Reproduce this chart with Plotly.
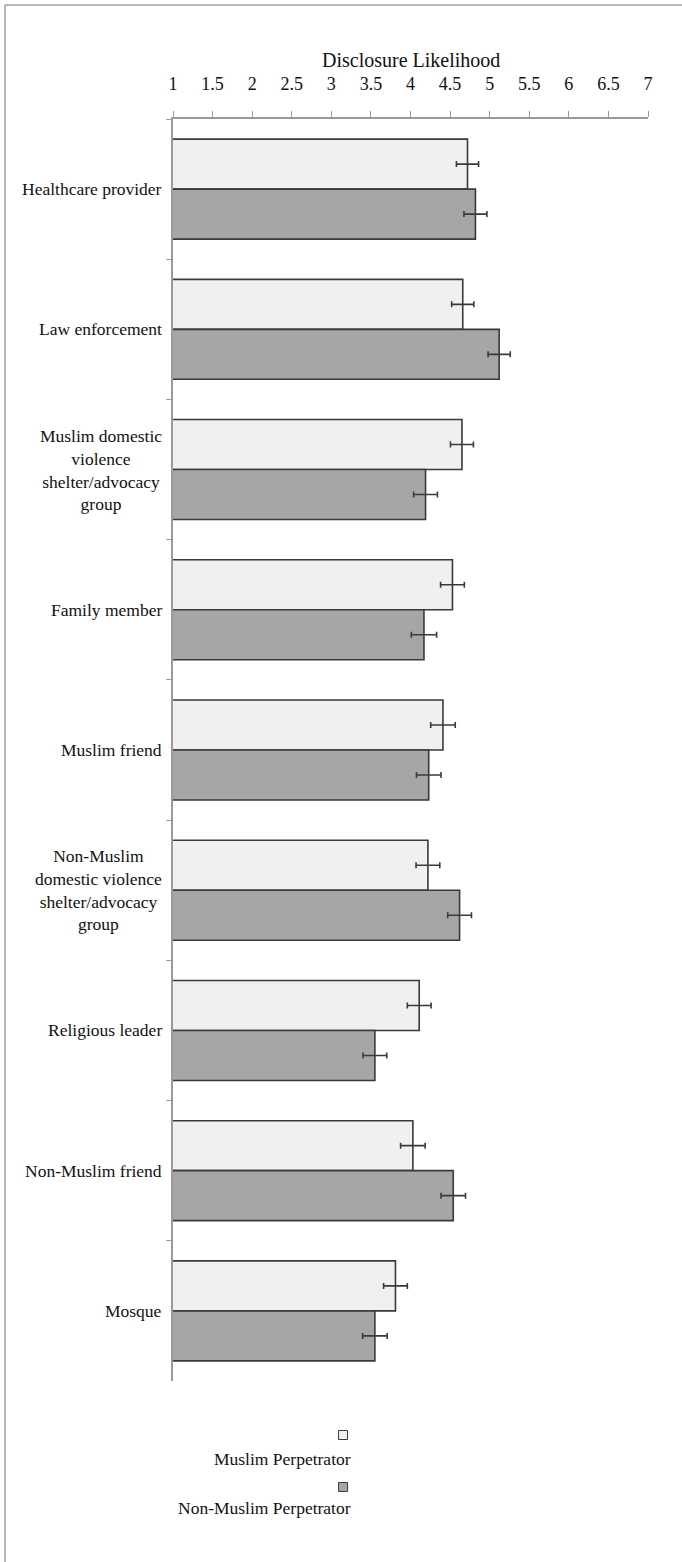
import plotly.graph_objects as go

# Disclosure targets (top to bottom); <br> marks the wrapped label lines
categories = [
    "Healthcare provider",
    "Law enforcement",
    "Muslim domestic<br>violence<br>shelter/advocacy<br>group",
    "Family member",
    "Muslim friend",
    "Non-Muslim<br>domestic violence<br>shelter/advocacy<br>group",
    "Religious leader",
    "Non-Muslim friend",
    "Mosque",
]

muslim_mean = [4.72, 4.66, 4.65, 4.53, 4.41, 4.22, 4.11, 4.03, 3.81]
muslim_se = [0.14, 0.14, 0.145, 0.15, 0.155, 0.15, 0.15, 0.155, 0.15]

nonmuslim_mean = [4.82, 5.12, 4.19, 4.17, 4.23, 4.62, 3.55, 4.54, 3.55]
nonmuslim_se = [0.145, 0.14, 0.15, 0.16, 0.155, 0.15, 0.15, 0.155, 0.155]

series_names = ["Muslim Perpetrator", "Non-Muslim Perpetrator"]

x_ticks = [1, 1.5, 2, 2.5, 3, 3.5, 4, 4.5, 5, 5.5, 6, 6.5, 7]
x_tick_text = ["1", "1.5", "2", "2.5", "3", "3.5", "4", "4.5", "5", "5.5", "6", "6.5", "7"]

LIGHT = "#f0f0f0"
DARK = "#a6a6a6"
EDGE = "#3a3a3a"
AXIS = "#9a9a9a"
FONT = "Liberation Serif"

fig = go.Figure()
for name, vals, errs, fill in [
    (series_names[0], muslim_mean, muslim_se, LIGHT),
    (series_names[1], nonmuslim_mean, nonmuslim_se, DARK),
]:
    fig.add_trace(go.Bar(
        name=name,
        y=categories,
        x=vals,
        orientation="h",
        base=0,
        marker=dict(color=fill, line=dict(color=EDGE, width=1.6)),
        error_x=dict(type="data", array=errs, visible=True,
                     color=EDGE, thickness=1.6, width=3),
        showlegend=False,
    ))

# Category labels, centred line by line, right of the axis
annotations = []
for cat in categories:
    annotations.append(dict(
        x=0, xref="paper", y=cat, yref="y",
        xanchor="right", yanchor="middle", xshift=-9,
        text=cat, showarrow=False, align="center",
        font=dict(family=FONT, size=17.5, color="#111111"),
    ))

# Axis title above the tick labels
annotations.append(dict(
    x=0.5, xref="paper", y=1, yref="paper", yshift=59,
    xanchor="center", yanchor="middle",
    text="Disclosure Likelihood", showarrow=False,
    font=dict(family=FONT, size=20, color="#111111"),
))

# Legend: swatch stacked above its label
shapes = []
legend_rows = [
    (series_names[0], LIGHT, -0.0428, -0.0618),
    (series_names[1], DARK, -0.084, -0.1006),
]
for name, fill, y_sq, y_txt in legend_rows:
    shapes.append(dict(
        type="rect", xref="paper", yref="paper",
        xsizemode="pixel", ysizemode="pixel",
        xanchor=0.358, yanchor=y_sq,
        x0=-4.5, x1=4.5, y0=-4.5, y1=4.5,
        fillcolor=fill, line=dict(color=EDGE, width=1),
    ))
    annotations.append(dict(
        x=0.379, xref="paper", y=y_txt, yref="paper",
        xanchor="right", yanchor="middle",
        text=name, showarrow=False,
        font=dict(family=FONT, size=17.5, color="#111111"),
    ))

# Outer frame (top and left edges)
shapes.append(dict(type="line", xref="paper", yref="paper",
                   x0=-0.3537, x1=1.2, y0=1.0903, y1=1.0903,
                   line=dict(color="#a0a0a0", width=1.5)))
shapes.append(dict(type="line", xref="paper", yref="paper",
                   x0=-0.3537, x1=-0.3537, y0=1.0903, y1=-0.2,
                   line=dict(color="#a0a0a0", width=1.5)))

fig.update_layout(
    width=682, height=1562,
    margin=dict(l=173, r=34, t=119, b=181),
    paper_bgcolor="white", plot_bgcolor="white",
    barmode="group", bargap=0.287, bargroupgap=0,
    annotations=annotations, shapes=shapes,
    font=dict(family=FONT, color="#111111"),
)
fig.update_xaxes(
    side="top", range=[1, 7], tickvals=x_ticks, ticktext=x_tick_text,
    showgrid=False, zeroline=False,
    showline=True, linecolor=AXIS, linewidth=1.5,
    ticks="outside", ticklen=6, tickcolor=AXIS, tickwidth=1.2,
    ticklabelstandoff=14,
    tickfont=dict(family=FONT, size=18, color="#111111"),
)
fig.update_yaxes(
    type="category", categoryorder="array", categoryarray=categories,
    autorange="reversed",
    showgrid=False, zeroline=False,
    showline=True, linecolor=AXIS, linewidth=1.5,
    ticks="outside", tickson="boundaries", ticklen=5,
    tickcolor=AXIS, tickwidth=1.2,
    showticklabels=False,
)

fig.write_html("out.html")
